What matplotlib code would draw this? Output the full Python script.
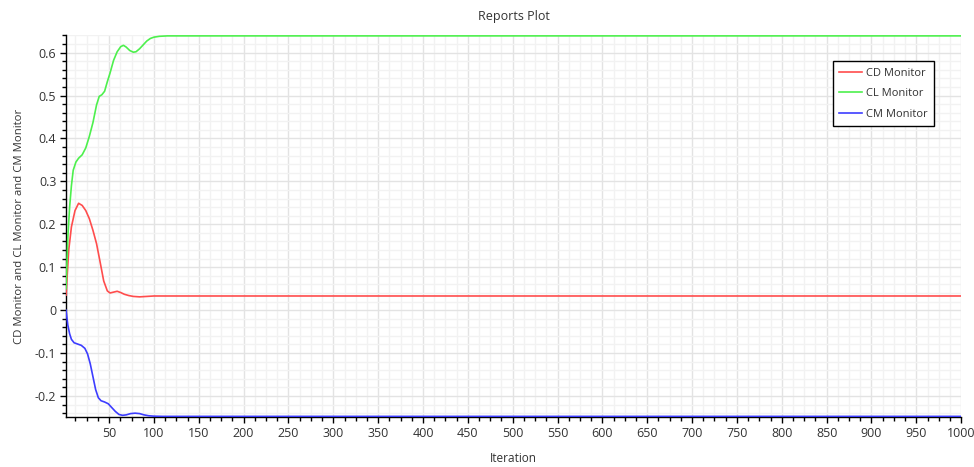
import matplotlib
matplotlib.use("Agg")
import matplotlib.pyplot as plt
from matplotlib.ticker import MultipleLocator, FuncFormatter

# ---- data (iteration, value) ----
cd_iter = [2, 5, 8, 12, 16, 20, 24, 28, 32, 36, 40, 44, 48, 51, 55, 59, 63, 67,
           72, 77, 84, 92, 100, 130, 1000]
cd_val = [0.035, 0.140, 0.194, 0.232, 0.249, 0.244, 0.232, 0.213, 0.186, 0.155,
          0.112, 0.068, 0.045, 0.040, 0.042, 0.044, 0.041, 0.037, 0.034, 0.032,
          0.031, 0.032, 0.033, 0.033, 0.033]

cl_iter = [2, 4, 6, 8, 10, 13, 16, 20, 24, 28, 32, 36, 39, 42, 45, 48, 51, 55,
           59, 63, 66, 69, 73, 77, 80, 84, 88, 92, 96, 100, 106, 115, 1000]
cl_val = [0.05, 0.17, 0.24, 0.29, 0.326, 0.345, 0.354, 0.362, 0.378, 0.405,
          0.437, 0.478, 0.498, 0.502, 0.510, 0.532, 0.552, 0.582, 0.602, 0.614,
          0.617, 0.613, 0.605, 0.601, 0.602, 0.609, 0.618, 0.627, 0.633, 0.636,
          0.638, 0.639, 0.639]

cm_iter = [2, 4, 6, 8, 11, 15, 19, 23, 26, 29, 32, 35, 38, 41, 45, 49, 53, 57,
           61, 65, 69, 74, 79, 84, 89, 94, 100, 110, 1000]
cm_val = [0.0, -0.035, -0.055, -0.068, -0.076, -0.079, -0.082, -0.089, -0.102,
          -0.125, -0.155, -0.185, -0.204, -0.211, -0.214, -0.218, -0.227, -0.236,
          -0.243, -0.245, -0.244, -0.241, -0.240, -0.241, -0.244, -0.246, -0.247,
          -0.2475, -0.2475]

labels = ["CD Monitor", "CL Monitor", "CM Monitor"]
colors = ["#ff4d4d", "#4df04d", "#3d3dff"]

plt.rcParams["font.family"] = ["Open Sans", "DejaVu Sans"]
plt.rcParams["axes.unicode_minus"] = False

fig = plt.figure(figsize=(9.74, 4.67), dpi=100)
ax = fig.add_axes([0.0678, 0.107, 0.919, 0.818])

for xs, ys, lab, col in zip([cd_iter, cl_iter, cm_iter], [cd_val, cl_val, cm_val],
                            labels, colors):
    ax.plot(xs, ys, color=col, lw=1.2, label=lab, zorder=3)

ax.set_xlim(2, 1000)
ax.set_ylim(-0.249, 0.641)

ax.xaxis.set_major_locator(MultipleLocator(50))
ax.xaxis.set_minor_locator(MultipleLocator(12.5))
ax.yaxis.set_major_locator(MultipleLocator(0.1))
ax.yaxis.set_minor_locator(MultipleLocator(0.02))
ax.yaxis.set_major_formatter(FuncFormatter(lambda v, p: "0" if abs(v) < 1e-9 else f"{v:.1f}"))

ax.grid(which="major", color="#e3e3e3", lw=1.0, zorder=0)
ax.grid(which="minor", color="#f2f2f2", lw=1.0, zorder=0)
ax.set_axisbelow(True)

for s in ["top", "right"]:
    ax.spines[s].set_visible(False)
for s in ["left", "bottom"]:
    ax.spines[s].set_color("black")
    ax.spines[s].set_linewidth(1.0)

ax.tick_params(which="major", direction="out", length=4, width=1, labelsize=9,
               labelcolor="#333333", pad=3)
ax.tick_params(which="minor", direction="out", length=3, width=1)

ax.set_title("Reports Plot", fontsize=9, color="#333333", pad=11)
ax.set_xlabel("Iteration", fontsize=8.5, color="#333333", labelpad=9)
ax.set_ylabel("CD Monitor and CL Monitor and CM Monitor", fontsize=8.2, color="#333333",
              labelpad=7)

leg = ax.legend(loc="upper right", bbox_to_anchor=(0.970, 0.932), fontsize=8,
                frameon=True, fancybox=False, edgecolor="black", framealpha=1,
                handlelength=2.0, labelspacing=0.85, borderpad=0.6, handletextpad=0.4,
                borderaxespad=0)
leg.get_frame().set_linewidth(1.0)
for t in leg.get_texts():
    t.set_color("#333333")

fig.savefig("out.png", dpi=100)
